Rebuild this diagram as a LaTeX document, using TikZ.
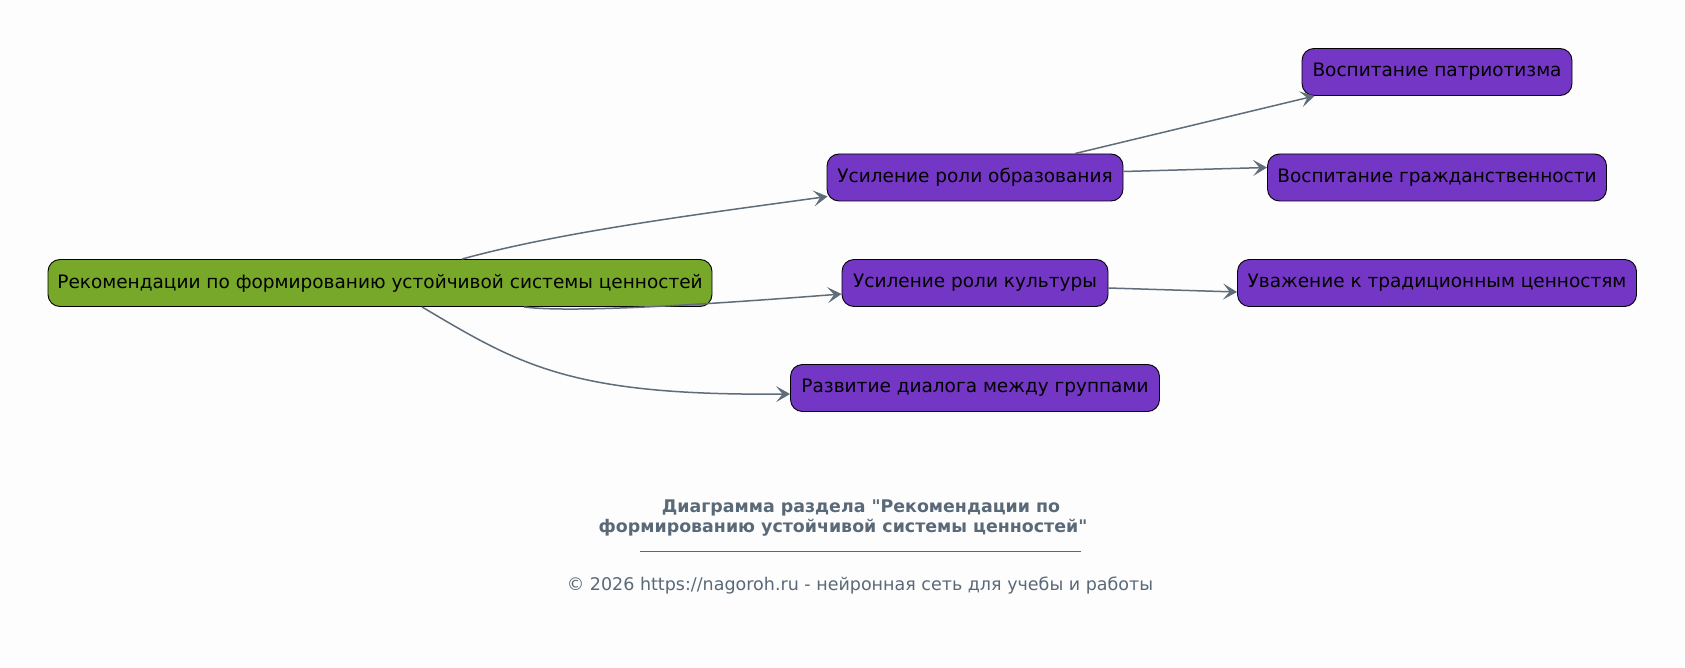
\documentclass[tikz,border=0pt]{standalone}
\usepackage{fontspec}
\setmainfont{DejaVu Sans}[Ligatures=TeXOff]
\usetikzlibrary{arrows.meta,calc}
\definecolor{bg}{HTML}{FDFDFD}
\definecolor{purp}{HTML}{7436C4}
\definecolor{grn}{HTML}{78A82A}
\definecolor{edge}{HTML}{5F6D7B}
\definecolor{ttl}{HTML}{5A6978}
\begin{document}
\begin{tikzpicture}[x=1pt,y=-1pt,
  box/.style={draw=black,line width=0.9pt,rounded corners=12pt,minimum height=47pt,inner xsep=0pt,inner ysep=0pt,font=\fontsize{18.5}{22}\selectfont,text=black},
  pbox/.style={box,fill=purp},
  gbox/.style={box,fill=grn},
  conn/.style={draw=edge,line width=1.5pt,-{Stealth[length=14pt,width=16pt,inset=6.5pt]}}]
\fill[bg] (0,0) rectangle (1685,668);
\useasboundingbox (0,0) rectangle (1685,668);
\node[gbox,minimum width=664pt] (root) at (380,283) {Рекомендации по формированию устойчивой системы ценностей};
\node[pbox,minimum width=296pt] (obr) at (975,177.5) {Усиление роли образования};
\node[pbox,minimum width=266pt] (kult) at (975,283) {Усиление роли культуры};
\node[pbox,minimum width=369pt] (dial) at (975,388) {Развитие диалога между группами};
\node[pbox,minimum width=270pt] (patr) at (1437,72) {Воспитание патриотизма};
\node[pbox,minimum width=339pt] (grazh) at (1437,177.5) {Воспитание гражданственности};
\node[pbox,minimum width=399pt] (uvazh) at (1437,283) {Уважение к традиционным ценностям};
\draw[conn] ($(root.north)+(82,0)$) .. controls (560,232) and (700,214) .. ($(obr.south west)+(1,-5)$);
\draw[conn] ($(root.south)+(144,0)$) .. controls (570,313) and (700,305) .. ($(kult.west)+(0,11)$);
\draw[conn] ($(root.south)+(42,0)$) .. controls (520,365) and (570,396) .. ($(dial.west)+(0,6)$);
\draw[conn] ($(obr.north)+(100,0)$) -- ($(patr.south west)+(13,0)$);
\draw[conn] ($(obr.east)+(0,-6)$) -- ($(grazh.west)+(0,-10)$);
\draw[conn] ($(kult.east)+(0,5)$) -- ($(uvazh.west)+(0,9)$);
\node[text=ttl,font=\bfseries\fontsize{17.4}{19.5}\selectfont,align=center] (title) at (861,518) {Диаграмма раздела "Рекомендации по\\формированию устойчивой системы ценностей"\hspace*{36pt}};
\coordinate (ul1) at (640,551);
\coordinate (ul2) at (1081,551);
\draw[ttl,line width=0.6pt] (ul1) -- (ul2);
\node[text=ttl,font=\fontsize{17.5}{20}\selectfont] (copy) at (860,586) {© 2026 https://nagoroh.ru - нейронная сеть для учебы и работы};
\end{tikzpicture}
\end{document}
